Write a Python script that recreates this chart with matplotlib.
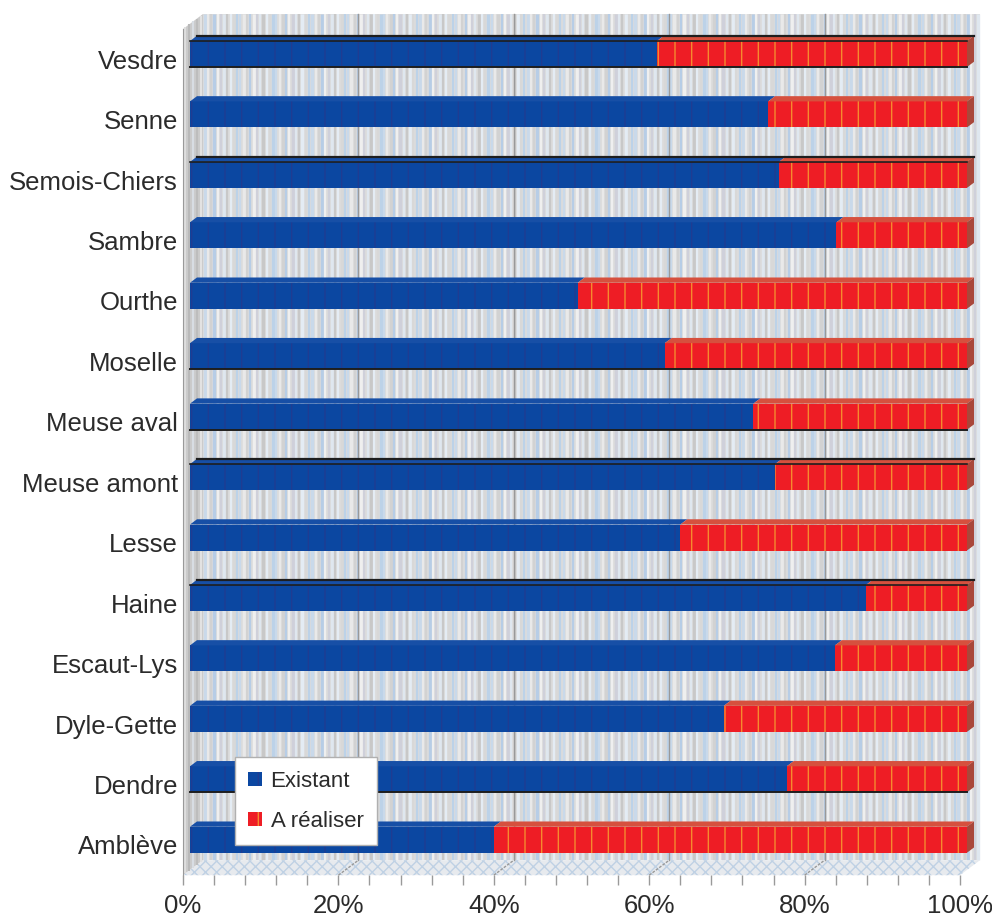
import matplotlib.pyplot as plt
import numpy as np
from matplotlib.collections import LineCollection
from matplotlib.patches import Polygon, Rectangle

plt.rcParams["font.family"] = ["Liberation Sans", "DejaVu Sans"]
plt.rcParams["hatch.linewidth"] = 1.0

# basins from bottom to top, share of network (%)
BASINS = ["Amblève", "Dendre", "Dyle-Gette", "Escaut-Lys", "Haine", "Lesse",
          "Meuse amont", "Meuse aval", "Moselle", "Ourthe", "Sambre",
          "Semois-Chiers", "Senne", "Vesdre"]
EXISTANT = [39.1, 76.8, 68.7, 83.0, 87.0, 63.1, 75.3, 72.5, 61.1, 49.9, 83.2,
            75.8, 74.4, 60.1]
A_REALISER = [60.9, 23.2, 31.3, 17.0, 13.0, 36.9, 24.7, 27.5, 38.9, 50.1, 16.8,
              24.2, 25.6, 39.9]
X_TICKS = [0, 20, 40, 60, 80, 100]
X_LABELS = ["0%", "20%", "40%", "60%", "80%", "100%"]

BLUE, BLUE_MARK = "#0b47a1", "#1f3c92"
RED, RED_MARK = "#ee1d25", "#f58a2e"
RED_TOP, RED_SIDE = "#d6503e", "#a9473a"
BLUE_TOP = "#174fa6"
TEXT = "#2b2b2b"
GRID = "#999999"

# pseudo-3D depth of the chart box, in data units
DX, DY = 20 / 7.77, 15 / 60.44
BAR_H = 26 / 60.44
F_Z, B_Z = 0.35, 0.70   # bar front / back depth as a fraction of the box

fig = plt.figure(figsize=(9.92, 9.16), dpi=100)
ax = fig.add_axes([183 / 992, 40.8 / 916, 777 / 992, 846.2 / 916])
ax.set_xlim(0, 100)
ax.set_ylim(-0.5, 13.5)
ax.patch.set_visible(False)

y0, y1 = -0.5, 13.5

# back wall with its striped fill
ax.add_patch(Rectangle((DX, y0 + DY), 100, y1 - y0, facecolor="#dcdcdc",
                       edgecolor="none", zorder=0, clip_on=False))
stripe_cols = ["#c9d9ea", "#e9e9e9", "#d2d2d2", "#b7cde6", "#efefef", "#cfd0da",
               "#dfe7ef", "#c8c8c8", "#e4ecf4", "#d8d8d8", "#bcd2e8"]
xs = np.arange(DX + 0.2, 100 + DX, 0.42)
segs = [[(x, y0 + DY), (x, y1 + DY)] for x in xs]
ax.add_collection(LineCollection(
    segs, colors=[stripe_cols[i % len(stripe_cols)] for i in range(len(xs))],
    linewidths=[1.6 if i % 3 else 2.4 for i in range(len(xs))],
    zorder=0.5, clip_on=False))

# left side wall
ax.add_patch(Polygon([(0, y0), (0, y1), (DX, y1 + DY), (DX, y0 + DY)],
                     closed=True, facecolor="#cbcbcb", edgecolor="none",
                     zorder=1, clip_on=False))
side_x = np.linspace(0.3, DX - 0.3, 5)
ax.add_collection(LineCollection(
    [[(x, y0 + DY * x / DX), (x, y1 + DY * x / DX)] for x in side_x],
    colors=["#dedede", "#b9b9b9", "#d8dde3", "#bdbdbd", "#e2e2e2"],
    linewidths=1.5, zorder=1.1, clip_on=False))

# floor
ax.add_patch(Polygon([(0, y0), (100, y0), (100 + DX, y0 + DY), (DX, y0 + DY)],
                     closed=True, facecolor="#e7eaee", edgecolor="#bfd1e4",
                     linewidth=0, hatch="xxx", zorder=1, clip_on=False))

# gridlines on the back wall and across the floor
for v in X_TICKS[1:-1]:
    ax.plot([v + DX, v + DX], [y0 + DY, y1 + DY], color=GRID, lw=1.0,
            zorder=1.5, clip_on=False)
    ax.plot([v, v + DX], [y0, y0 + DY], color=GRID, lw=1.0, ls=(0, (2, 1)),
            zorder=1.5, clip_on=False)

# stacked bars (front faces)
ypos = np.arange(len(BASINS))
fx, fy = F_Z * DX, F_Z * DY
dxb, dyb = (B_Z - F_Z) * DX, (B_Z - F_Z) * DY
yc = ypos + fy
ex = np.array(EXISTANT)
ar = np.array(A_REALISER)

b_ex = ax.barh(yc, ex, left=fx, height=BAR_H, color=BLUE, edgecolor=BLUE_MARK,
               linewidth=0, hatch="|", zorder=4, label="Existant")
b_ar = ax.barh(yc, ar, left=fx + ex, height=BAR_H, color=RED,
               edgecolor=RED_MARK, linewidth=0, hatch="|", zorder=4,
               label="A réaliser")
for bar in list(b_ex) + list(b_ar):
    bar.set_clip_on(False)

# top faces and right end caps
for yy, e, r in zip(yc, ex, ar):
    top, bot = yy + BAR_H / 2, yy - BAR_H / 2
    x_a, x_b, x_c = fx, fx + e, fx + e + r
    ax.add_patch(Polygon([(x_a, top), (x_b, top), (x_b + dxb, top + dyb),
                          (x_a + dxb, top + dyb)], closed=True,
                         facecolor=BLUE_TOP, edgecolor="none", zorder=4))
    ax.add_patch(Polygon([(x_b, top), (x_c, top), (x_c + dxb, top + dyb),
                          (x_b + dxb, top + dyb)], closed=True,
                         facecolor=RED_TOP, edgecolor="none", zorder=4,
                         clip_on=False))
    ax.add_patch(Polygon([(x_c, bot), (x_c, top), (x_c + dxb, top + dyb),
                          (x_c + dxb, bot + dyb)], closed=True,
                         facecolor=RED_SIDE, edgecolor="none", zorder=4,
                         clip_on=False))

# a few bars carry a dark rim along their top edge
for name in ["Vesdre", "Semois-Chiers", "Meuse amont", "Haine"]:
    i = BASINS.index(name)
    top = yc[i] + BAR_H / 2
    end = fx + ex[i] + ar[i]
    ax.plot([fx + dxb, end + dxb], [top + dyb, top + dyb], color="#1e1e1e",
            lw=1.6, zorder=4.5, clip_on=False)
    ax.plot([fx, end], [top, top], color="#1e1e1e", lw=1.2, zorder=4.5,
            clip_on=False)
for name in ["Vesdre", "Moselle", "Meuse aval", "Dendre"]:
    i = BASINS.index(name)
    bot = yc[i] - BAR_H / 2
    ax.plot([fx, fx + ex[i] + ar[i]], [bot, bot], color="#1e1e1e", lw=1.4,
            zorder=4.5, clip_on=False)

# axes
for side in ["top", "right", "bottom"]:
    ax.spines[side].set_visible(False)
ax.spines["left"].set_color("#9a9a9a")
ax.spines["left"].set_zorder(2)

ax.set_xticks(X_TICKS)
ax.set_xticklabels(X_LABELS)
ax.set_xticks(np.arange(0, 101, 4), minor=True)
ax.tick_params(axis="x", which="both", length=7.2, width=1.0,
               color="#9a9a9a", pad=6, labelsize=18.5, labelcolor=TEXT)
ax.set_yticks(ypos)
ax.set_yticklabels(BASINS)
ax.tick_params(axis="y", length=0, pad=3.6, labelsize=18.5, labelcolor=TEXT)

leg = ax.legend(handles=[b_ex, b_ar], loc="lower left",
                bbox_to_anchor=(235 / 992, 71 / 916),
                bbox_transform=fig.transFigure, borderaxespad=0,
                fontsize=16, frameon=True, fancybox=False, shadow=False,
                framealpha=1, facecolor="white",
                handlelength=0.6, handleheight=0.6, handletextpad=0.4,
                labelspacing=0.85, borderpad=0.6, labelcolor=TEXT)
leg.get_frame().set_edgecolor("#b0b0b0")
leg.get_frame().set_linewidth(1.0)
leg.set_zorder(6)

fig.savefig("out.png", dpi=100, facecolor="white")
